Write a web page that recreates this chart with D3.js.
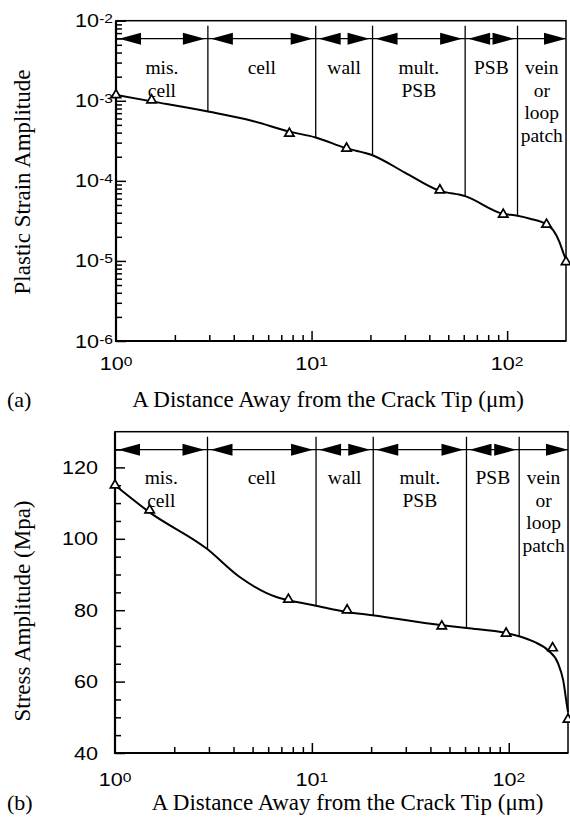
<!DOCTYPE html>
<html>
<head>
<meta charset="utf-8">
<script src="https://cdn.jsdelivr.net/npm/d3@7"></script>
<style>
  body { margin: 0; background: #fff; }
  svg { display: block; }
</style>
</head>
<body>
<svg id="chart" width="570" height="821"></svg>
<script>
// Zones along the distance axis
const zoneNames = [['mis.', 'cell'], ['cell'], ['wall'], ['mult.', 'PSB'], ['PSB'], ['vein', 'or', 'loop', 'patch']];
const zoneEdges = [1, 2.95, 10.5, 20.5, 61, 113, 200];

// (a) plastic strain amplitude
const strainCurveX = [1, 1.5, 3, 5, 7.7, 10.5, 15, 20.5, 30, 45, 61, 95, 113, 131, 159, 172, 185, 195, 200];
const strainCurveY = [1.18e-3, 9.9e-4, 7.3e-4, 5.6e-4, 4.12e-4, 3.48e-4, 2.56e-4, 2.09e-4, 1.27e-4, 7.54e-5, 6.44e-5, 3.89e-5, 3.67e-5, 3.37e-5, 2.85e-5, 2.42e-5, 1.73e-5, 1.21e-5, 1.05e-5];
const strainPtsX = [1, 1.52, 7.7, 15.1, 45.3, 95.5, 159, 200];
const strainPtsY = [1.18e-3, 1.02e-3, 3.9e-4, 2.54e-4, 7.65e-5, 3.8e-5, 2.85e-5, 9.7e-6];

// (b) stress amplitude
const stressCurveX = [1, 1.5, 2.93, 4.3, 6.6, 7.6, 10.2, 15, 20.3, 45.7, 61, 97, 113, 135, 158, 178, 189, 198, 200];
const stressCurveY = [115, 107.4, 97.2, 89.3, 83.7, 82.8, 81.4, 79.5, 78.6, 75.8, 75, 73.6, 72.7, 71.1, 68.8, 65.1, 60.4, 53, 51.5];
const stressPtsX = [1, 1.5, 7.6, 15.1, 45.7, 97, 167, 200];
const stressPtsY = [115, 108, 83, 80, 75.5, 73.5, 69.4, 49.4];

// Ticks
const minorMult = [2, 3, 4, 5, 6, 7, 8, 9];
const distExp = [0, 1, 2];
const strainExp = [-6, -5, -4, -3, -2];
const stressMajor = [40, 60, 80, 100, 120];
const stressMinor = [45, 50, 55, 65, 70, 75, 85, 90, 95, 105, 110, 115, 125];

const svg = d3.select('#chart');
const SANS = '"Liberation Sans", Arial, Helvetica, sans-serif';
const SERIF = '"Liberation Serif", "Times New Roman", Times, serif';

const panels = [
  {
    tag: '(a)', top: 20.7, bottom: 341, left: 116, right: 566,
    y: d3.scaleLog().domain([1e-6, 1e-2]).range([341, 20.7]),
    yMajor: strainExp.map(e => Math.pow(10, e)),
    yMinor: strainExp.slice(0, -1).flatMap(e => minorMult.map(m => m * Math.pow(10, e))),
    yLabels: strainExp.map(e => ({ v: Math.pow(10, e), base: '10', sup: String(e) })),
    yLabelRight: 113,
    curveX: strainCurveX, curveY: strainCurveY, ptsX: strainPtsX, ptsY: strainPtsY,
    yTitle: 'Plastic Strain Amplitude', yTitleY: 182,
    xTitleX: 328, xTitleY: 406.5, xLabelY: 370, tagY: 407,
    textOffset: 35.5, lineStep: 22.5
  },
  {
    tag: '(b)', top: 431.7, bottom: 753, left: 115, right: 568,
    y: d3.scaleLinear().domain([40, 130]).range([753, 431.7]),
    yMajor: stressMajor,
    yMinor: stressMinor,
    yLabels: stressMajor.map(v => ({ v: v, base: String(v), sup: '' })),
    yLabelRight: 98,
    curveX: stressCurveX, curveY: stressCurveY, ptsX: stressPtsX, ptsY: stressPtsY,
    yTitle: 'Stress Amplitude (Mpa)', yTitleY: 611,
    xTitleX: 347.5, xTitleY: 810, xLabelY: 786, tagY: 810,
    textOffset: 34.5, lineStep: 22.5
  }
];

panels.forEach(drawPanel);

function labelText(g, x, y, d, anchor) {
  const t = g.append('g')
    .attr('transform', `translate(${x},${y})`)
    .append('text')
    .attr('transform', 'scale(1.2,1)')
    .attr('text-anchor', anchor)
    .attr('font-family', SANS)
    .attr('font-size', 18)
    .text(d.base);
  if (d.sup) {
    t.append('tspan').attr('font-size', 13).attr('dy', -4).text(d.sup);
  }
}

function drawPanel(p) {
  const g = svg.append('g');
  const x = d3.scaleLog().domain([1, 200]).range([p.left, p.right]);
  const y = p.y;

  // ticks (inward)
  const xMajor = distExp.map(e => Math.pow(10, e));
  const xMinor = distExp.slice(0, -1).flatMap(e => minorMult.map(m => m * Math.pow(10, e)));

  const axes = [
    [d3.axisBottom(x).tickValues(xMajor.slice(1)).tickSize(-10), `translate(0,${p.bottom})`],
    [d3.axisBottom(x).tickValues(xMinor).tickSize(-6), `translate(0,${p.bottom})`],
    [d3.axisLeft(y).tickValues(p.yMajor).tickSize(-10), `translate(${p.left},0)`],
    [d3.axisLeft(y).tickValues(p.yMinor).tickSize(-6), `translate(${p.left},0)`]
  ];
  axes.forEach(([ax, tr]) => {
    const a = g.append('g').attr('transform', tr).call(ax.tickFormat(''));
    a.select('.domain').remove();
    a.selectAll('line').attr('stroke', '#000').attr('stroke-width', 1.5);
  });

  // frame
  g.append('rect')
    .attr('x', p.left).attr('y', p.top)
    .attr('width', p.right - p.left).attr('height', p.bottom - p.top)
    .attr('fill', 'none').attr('stroke', '#000').attr('stroke-width', 1.5);
  g.append('path')
    .attr('d', `M${p.left},${p.top}V${p.bottom}H${p.right}`)
    .attr('fill', 'none').attr('stroke', '#000').attr('stroke-width', 2.2);

  // curve
  const pts = p.curveX.map((v, i) => [x(v), y(p.curveY[i])]);
  const curveYAt = px => {
    for (let i = 1; i < pts.length; i++) {
      if (px <= pts[i][0]) {
        const t = (px - pts[i - 1][0]) / (pts[i][0] - pts[i - 1][0]);
        return pts[i - 1][1] + t * (pts[i][1] - pts[i - 1][1]);
      }
    }
    return pts[pts.length - 1][1];
  };

  // zone boundary lines
  zoneEdges.slice(1, -1).forEach(e => {
    g.append('line')
      .attr('x1', x(e)).attr('x2', x(e))
      .attr('y1', p.top + 5).attr('y2', curveYAt(x(e)))
      .attr('stroke', '#000').attr('stroke-width', 1.3);
  });

  // arrows
  const ay = p.top + 18;
  g.append('line')
    .attr('x1', x(1)).attr('x2', x(200)).attr('y1', ay).attr('y2', ay)
    .attr('stroke', '#000').attr('stroke-width', 1.3);
  const L = 22, h = 6, gap = 3;
  zoneNames.forEach((names, i) => {
    const x0 = x(zoneEdges[i]), x1 = x(zoneEdges[i + 1]);
    if (i < zoneNames.length - 1) {
      const tip = x0 + gap;
      g.append('path').attr('d', `M${tip},${ay}L${tip + L},${ay - h}L${tip + L},${ay + h}Z`).attr('fill', '#000');
    }
    const tip2 = x1 - (i === zoneNames.length - 1 ? 0 : gap);
    g.append('path').attr('d', `M${tip2},${ay}L${tip2 - L},${ay - h}L${tip2 - L},${ay + h}Z`).attr('fill', '#000');

    const cx = (x0 + x1) / 2;
    names.forEach((n, j) => {
      g.append('text')
        .attr('x', cx).attr('y', ay + p.textOffset + j * p.lineStep)
        .attr('text-anchor', 'middle')
        .attr('font-family', SERIF).attr('font-size', 19.5)
        .text(n);
    });
  });

  g.append('path')
    .datum(pts)
    .attr('d', d3.line().curve(d3.curveMonotoneX))
    .attr('fill', 'none').attr('stroke', '#000').attr('stroke-width', 2);

  // markers
  const tri = d3.symbol().type(d3.symbolTriangle).size(38);
  p.ptsX.forEach((v, i) => {
    g.append('path')
      .attr('d', tri())
      .attr('transform', `translate(${x(v)},${y(p.ptsY[i])})`)
      .attr('fill', '#fff').attr('stroke', '#000').attr('stroke-width', 1.7);
  });

  // tick labels
  p.yLabels.forEach(d => labelText(g, p.yLabelRight, y(d.v) + 6.5, d, 'end'));
  distExp.forEach(e => labelText(g, x(Math.pow(10, e)), p.xLabelY, { base: '10', sup: String(e) }, 'middle'));

  // titles
  g.append('text')
    .attr('transform', `translate(30,${p.yTitleY}) rotate(-90)`)
    .attr('text-anchor', 'middle')
    .attr('font-family', SERIF).attr('font-size', 23)
    .text(p.yTitle);
  g.append('text')
    .attr('x', p.xTitleX).attr('y', p.xTitleY)
    .attr('text-anchor', 'middle')
    .attr('font-family', SERIF).attr('font-size', 23)
    .text('A Distance Away from the Crack Tip (\u03bcm)');
  g.append('text')
    .attr('x', 7).attr('y', p.tagY)
    .attr('font-family', SERIF).attr('font-size', 22)
    .text(p.tag);
}
</script>
</body>
</html>
